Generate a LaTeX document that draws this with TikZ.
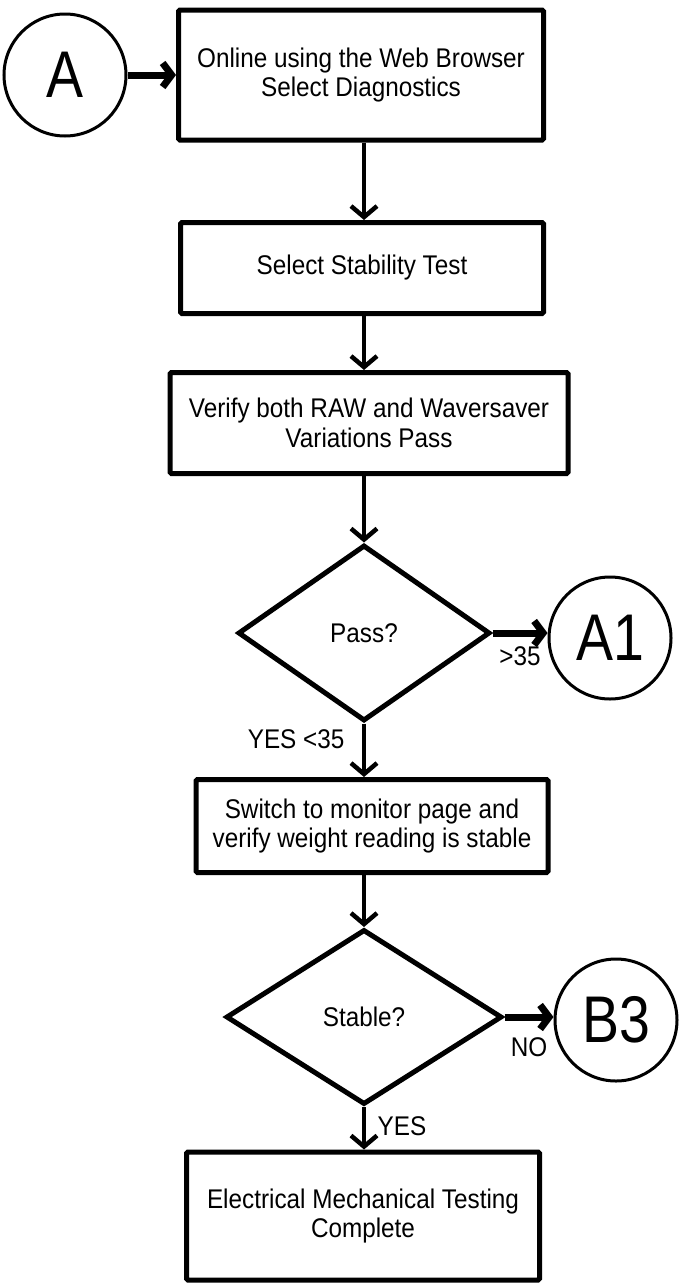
\documentclass[tikz,border=0pt]{standalone}
\usepackage{fontspec}
\setmainfont{Liberation Sans}[FakeStretch=0.9]
\newfontfamily\narrowsans[FakeStretch=0.84]{Liberation Sans}
\usetikzlibrary{arrows.meta,shapes.geometric}

\begin{document}
\begin{tikzpicture}[x=1pt, y=-1pt,
    every node/.style={font=\fontsize{27}{29.5}\selectfont},
    procbox/.style={draw, line width=5pt, rounded corners=1.5pt, align=center, inner sep=0pt},
    decision/.style={draw, diamond, line width=5pt, inner sep=0pt},
    connector/.style={draw, circle, line width=3pt, inner sep=0pt, minimum size=122pt,
      font=\narrowsans\fontsize{66}{66}\selectfont},
    flow/.style={line width=4.5pt, -{Straight Barb[length=11pt, width=26pt]}},
    branch/.style={line width=7pt, -{Straight Barb[length=9pt, width=24pt]}}]
  \useasboundingbox (0,0) rectangle (680,1285);
  % start connector and steps
  \node[connector] (A) at (65,75) {A};
  \node[procbox, minimum width=365pt, minimum height=130pt] (online) at (361,75)
    {Online using the Web Browser\\Select Diagnostics};
  \node[procbox, minimum width=363pt, minimum height=91pt] (stability) at (362,268)
    {Select Stability Test};
  \node[procbox, minimum width=398pt, minimum height=101pt] (verify) at (369,423)
    {Verify both RAW and Waversaver\\Variations Pass};
  \node[decision, minimum width=252pt, minimum height=176pt] (pass) at (364,633) {Pass?};
  \node[connector] (A1) at (610,638) {A1};
  \node[procbox, minimum width=352pt, minimum height=93pt] (monitor) at (372,826)
    {Switch to monitor page and\\verify weight reading is stable};
  \node[decision, minimum width=276pt, minimum height=175pt] (stable) at (364,1017) {Stable?};
  \node[connector] (B3) at (616,1020) {B3};
  \node[procbox, minimum width=353pt, minimum height=128pt] (complete) at (363,1216)
    {Electrical Mechanical Testing\\Complete};
  % connectors
  \draw[branch] (A) -- (online);
  \draw[flow] (online.south -| pass.north) -- (stability.north -| pass.north);
  \draw[flow] (stability.south -| pass.north) -- (verify.north -| pass.north);
  \draw[flow] (verify.south -| pass.north) -- (pass.north);
  \draw[branch] (pass.east) -- node[below, yshift=-7pt]{>35} (A1.west |- pass.east);
  \draw[flow] (pass.south) -- node[left, pos=0.3, xshift=-14pt]{YES <35} (monitor.north -| pass.south);
  \draw[flow] (monitor.south -| stable.north) -- (stable.north);
  \draw[branch] (stable.east) -- node[below, yshift=-14pt]{NO} (B3.west |- stable.east);
  \draw[flow] (stable.south) -- node[right, pos=0.45, xshift=8pt]{YES} (complete.north -| stable.south);
\end{tikzpicture}
\end{document}
